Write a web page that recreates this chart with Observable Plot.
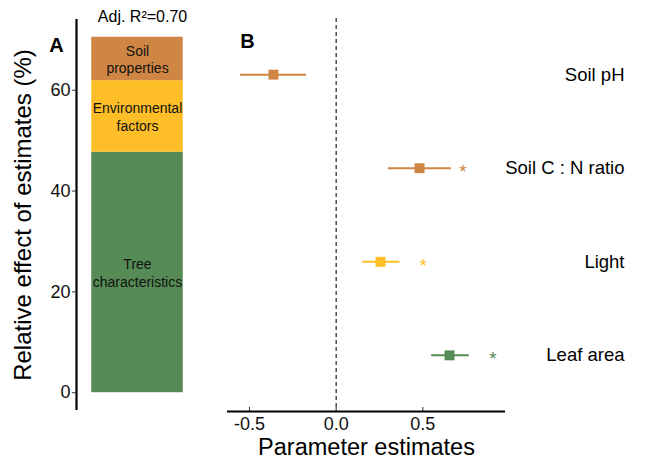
<!DOCTYPE html>
<html>
<head>
<meta charset="utf-8">
<script src="https://cdn.jsdelivr.net/npm/d3@7"></script>
<script src="https://cdn.jsdelivr.net/npm/@observablehq/plot@0.6"></script>
<style>
  body { margin: 0; background: #fff; }
  #wrap { position: relative; width: 645px; height: 465px; overflow: hidden; }
  #wrap svg { position: absolute; top: 0; }
</style>
</head>
<body>
<div id="wrap"></div>
<script>
// ---- Panel A data ----
const groups = ["Tree characteristics", "Environmental factors", "Soil properties"];
const groupLabels = ["Tree\ncharacteristics", "Environmental\nfactors", "Soil\nproperties"];
const shares = [47.7, 14.2, 8.6];
const groupColors = ["#568B55", "#FEBE28", "#CF8644"];
const r2Label = "Adj. R²=0.70";
const yTicksA = [0, 20, 40, 60];
const yTitleA = "Relative effect of estimates (%)";

// ---- Panel B data ----
const categories = ["Leaf area", "Light", "Soil C : N ratio", "Soil pH"];
const categoryGroup = ["Tree characteristics", "Environmental factors", "Soil properties", "Soil properties"];
const estimates = [0.654, 0.256, 0.481, -0.362];
const lower = [0.548, 0.150, 0.298, -0.554];
const upper = [0.765, 0.365, 0.663, -0.173];
const starX = [0.904, 0.502, 0.731, null];
const xTicksB = [-0.5, 0, 0.5];
const xTitleB = "Parameter estimates";

const font = "'Liberation Sans', Arial, sans-serif";
const wrap = document.getElementById("wrap");

// Panel A
const dataA = groups.map((g, i) => ({group: g, label: groupLabels[i], value: shares[i], x: 1}));
const total = d3.sum(shares);
const padA = total * 0.05;
const yDomA = [-padA, total + padA];
const xDomA = [0.4, 1.6];

const plotA = Plot.plot({
  width: 215, height: 465,
  marginLeft: 76, marginRight: 17, marginTop: 19, marginBottom: 55,
  style: {fontFamily: font, color: "#000", background: "transparent", overflow: "visible"},
  x: {domain: xDomA, axis: null},
  y: {domain: yDomA, axis: null},
  color: {domain: groups, range: groupColors},
  marks: [
    Plot.rectY(dataA, Plot.stackY({x1: d => d.x - 0.45, x2: d => d.x + 0.45, y: "value", fill: "group"})),
    Plot.text(dataA, Plot.stackY({x: "x", y: "value", text: "label", fontSize: 14, lineHeight: 1.25, fill: "#111"})),
    Plot.ruleX([xDomA[0]], {y1: yDomA[0], y2: yDomA[1], strokeWidth: 2.2, stroke: "#000"}),
    Plot.axisY({ticks: yTicksA, tickSize: 4, tickPadding: 2, fontSize: 18, label: null, stroke: "#333", fill: "#111"}),
    Plot.text([yTitleA], {frameAnchor: "left", textAnchor: "middle", rotate: -90, dx: -53, fontSize: 24, fill: "#000"}),
    Plot.text(["A"], {frameAnchor: "top-left", textAnchor: "middle", dx: -20, dy: 18, fontWeight: "bold", fontSize: 20, fill: "#000"}),
    Plot.text([r2Label], {frameAnchor: "top", dx: 5, dy: -9, fontSize: 16, fill: "#000"})
  ]
});
plotA.style.left = "0px";
wrap.appendChild(plotA);

// Panel B
const dataB = categories.map((c, i) => ({
  name: c, pos: i + 1, est: estimates[i], lo: lower[i], hi: upper[i], star: starX[i], group: categoryGroup[i]
}));
const xMin = d3.min(lower), xMax = d3.max(starX.filter(v => v != null).concat(upper));
const padB = (xMax - xMin) * 0.05;
const xDomB = [xMin - padB, xMax + padB];
const yDomB = [0.4, categories.length + 0.6];
const hB = 465, mTopB = 18, mBotB = 54;
const tickLenB = 4 * (yDomB[1] - yDomB[0]) / (hB - mTopB - mBotB); // 4px, inward ticks

const plotB = Plot.plot({
  width: 430, height: hB,
  marginLeft: 12, marginRight: 140, marginTop: mTopB, marginBottom: mBotB,
  style: {fontFamily: font, color: "#000", background: "transparent", overflow: "visible"},
  x: {domain: xDomB, axis: null},
  y: {domain: yDomB, axis: null},
  color: {domain: groups, range: groupColors},
  marks: [
    Plot.ruleX([0], {stroke: "#222", strokeWidth: 1.2, strokeDasharray: "4,3"}),
    Plot.ruleX(xTicksB, {y1: yDomB[0], y2: yDomB[0] + tickLenB, stroke: "#333", strokeWidth: 1}),
    Plot.ruleY([yDomB[0]], {stroke: "#000", strokeWidth: 2.2}),
    Plot.link(dataB, {x1: "lo", x2: "hi", y1: "pos", y2: "pos", stroke: "group", strokeWidth: 2}),
    Plot.dot(dataB, {x: "est", y: "pos", symbol: "square", r: 5.6, fill: "group"}),
    Plot.text(dataB.filter(d => d.star != null), {x: "star", y: "pos", text: () => "*", fill: "group", fontSize: 19, dy: 4}),
    Plot.text(dataB, {y: "pos", text: "name", frameAnchor: "right", textAnchor: "end", dx: 119, fontSize: 18.5, fill: "#000"}),
    Plot.axisX({ticks: xTicksB, tickSize: 0, tickPadding: 6, fontSize: 18, label: null, fill: "#111", tickFormat: d => d.toFixed(1)}),
    Plot.text([xTitleB], {frameAnchor: "bottom", dy: 43, fontSize: 23.5, fill: "#000"}),
    Plot.text(["B"], {frameAnchor: "top-left", textAnchor: "middle", dx: 20, dy: 15, fontWeight: "bold", fontSize: 20, fill: "#000"})
  ]
});
plotB.style.left = "215px";
wrap.appendChild(plotB);
</script>
</body>
</html>
